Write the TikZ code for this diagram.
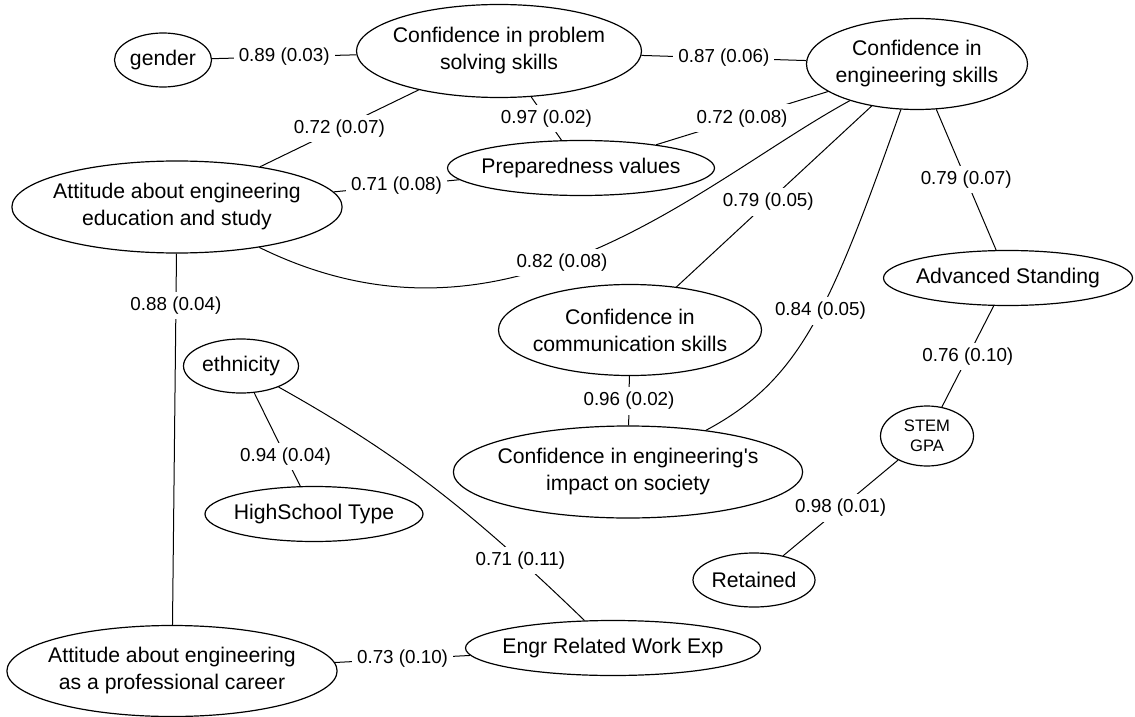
\documentclass[tikz,border=0pt]{standalone}
\usepackage{fontspec}
\setmainfont{Liberation Sans}
\usepackage{tikz}
\usetikzlibrary{shapes,arrows,positioning,calc}

\begin{document}
\begin{tikzpicture}[x=0.5pt, y=-0.5pt, line width=0.5pt,
    var/.style={draw, ellipse, line width=0.6pt, inner xsep=-3.5pt, inner ysep=0pt, align=center, font=\fontsize{10.6}{13.5}\selectfont},
    est/.style={fill=white, inner sep=2.5pt, font=\fontsize{9.4}{11}\selectfont}]
    \useasboundingbox (0,0) rectangle (1135,717);

    % Variables
    \node[var, minimum width=48.5pt, minimum height=27pt] (gender) at (163,60) {gender};
    \node[var, minimum width=142.5pt, minimum height=46.5pt] (cps) at (499,51) {Confidence in problem\\solving skills};
    \node[var, minimum width=110.5pt, minimum height=45.5pt] (ces) at (917,64) {Confidence in\\engineering skills};
    \node[var, minimum width=133.5pt, minimum height=27.5pt] (prep) at (581,168) {Preparedness values};
    \node[var, minimum width=164.5pt, minimum height=46pt] (aees) at (177,207) {Attitude about engineering\\education and study};
    \node[var, minimum width=124.5pt, minimum height=27.5pt] (adv) at (1008,278) {Advanced Standing};
    \node[var, minimum width=131.5pt, minimum height=45.5pt] (ccs) at (630,330) {Confidence in\\communication skills};
    \node[var, minimum width=173pt, minimum height=46pt] (ceis) at (628,472) {Confidence in engineering\textquotesingle s\\impact on society};
    \node[var, minimum width=57.5pt, minimum height=27pt] (eth) at (241,366) {ethnicity};
    \node[var, minimum width=109pt, minimum height=27.5pt] (hs) at (314,514) {HighSchool Type};
    \node[var, minimum width=46.5pt, minimum height=30pt, font=\fontsize{8.3}{10}\selectfont] (gpa) at (927,436) {STEM\\GPA};
    \node[var, minimum width=61pt, minimum height=27pt] (ret) at (754,580) {Retained};
    \node[var, minimum width=147.5pt, minimum height=27.5pt] (work) at (613,648) {Engr Related Work Exp};
    \node[var, minimum width=165pt, minimum height=45.5pt] (aepc) at (172,671) {Attitude about engineering\\as a professional career};

    % Links
    \draw (gender) -- node[est] {0.89 (0.03)} (cps);
    \draw (cps) -- node[est] {0.87 (0.06)} (ces);
    \draw (cps) -- node[est] {0.72 (0.07)} (aees);
    \draw (cps) -- node[est] {0.97 (0.02)} (prep);
    \draw (prep) -- node[est] {0.72 (0.08)} (ces);
    \draw (aees) -- node[est] {0.71 (0.08)} (prep);
    \draw (aees) .. controls (509,370) and (699,183) .. node[est, pos=0.45] {0.82 (0.08)} (ces);
    \draw (ces) -- node[est, pos=0.53] {0.79 (0.05)} (ccs);
    \draw (ces) .. controls (830,310) and (800,380) .. node[est, pos=0.45] {0.84 (0.05)} (ceis);
    \draw (ces) -- node[est] {0.79 (0.07)} (adv);
    \draw (adv) -- node[est] {0.76 (0.10)} (gpa);
    \draw (gpa) -- node[est] {0.98 (0.01)} (ret);
    \draw (ccs) -- node[est] {0.96 (0.02)} (ceis);
    \draw (aees) -- node[est, pos=0.14] {0.88 (0.04)} (aepc);
    \draw (eth) -- node[est, pos=0.68] {0.94 (0.04)} (hs);
    \draw (eth) .. controls (400,455) and (470,510) .. node[est, pos=0.8] {0.71 (0.11)} (work);
    \draw (aepc) -- node[est] {0.73 (0.10)} (work);
\end{tikzpicture}
\end{document}
